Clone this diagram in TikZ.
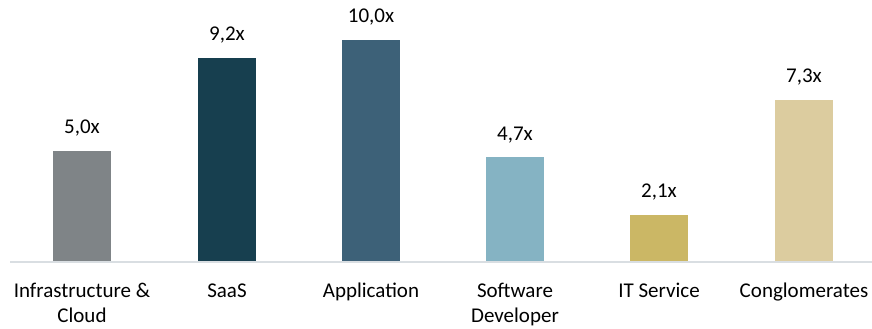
\documentclass[tikz,border=0pt]{standalone}
\usepackage{fontspec}
\setmainfont{Carlito}

\definecolor{infragray}{HTML}{7F8487}
\definecolor{saasteal}{HTML}{173F4F}
\definecolor{appblue}{HTML}{3D6178}
\definecolor{devblue}{HTML}{85B3C3}
\definecolor{itgold}{HTML}{CBB765}
\definecolor{congsand}{HTML}{DCCC9F}
\definecolor{axisgray}{HTML}{D9DEE2}

\begin{document}
\begin{tikzpicture}[x=1pt,y=-1pt,
  bar/.style={fill=#1,draw=none,anchor=south,inner sep=0pt,minimum width=58pt},
  val/.style={anchor=base,inner sep=0pt,font=\fontsize{21}{25.5}\selectfont},
  cat/.style={anchor=base,inner sep=0pt,align=center,font=\fontsize{21}{25.5}\selectfont}]
 \useasboundingbox (0,0) rectangle (872,329);
 % axis
 \coordinate (axl) at (10,262);
 \coordinate (axr) at (872,262);
 % bars with values and categories (base = last line)
 \foreach \i/\cx/\v/\col/\txt/\ly/\lab in {
   1/82/5.0/infragray/{5,0x}/322.5/{Infrastructure \&\\Cloud},
   2/227/9.2/saasteal/{9,2x}/297/{SaaS},
   3/371/10.0/appblue/{10,0x}/297/{Application},
   4/515/4.7/devblue/{4,7x}/322.5/{Software\\Developer},
   5/659/2.1/itgold/{2,1x}/297/{IT Service},
   6/804/7.3/congsand/{7,3x}/297/{Conglomerates}}{
   \node[bar=\col,minimum height=22.2*\v pt] (bar\i) at (\cx,262) {};
   \node[val] (val\i) at ([yshift=17pt]bar\i.north) {\txt};
   \node[cat] (cat\i) at (\cx,\ly) {\lab};
 }
 \draw[axisgray,line width=1.5pt] (axl) -- (axr);
\end{tikzpicture}
\end{document}
